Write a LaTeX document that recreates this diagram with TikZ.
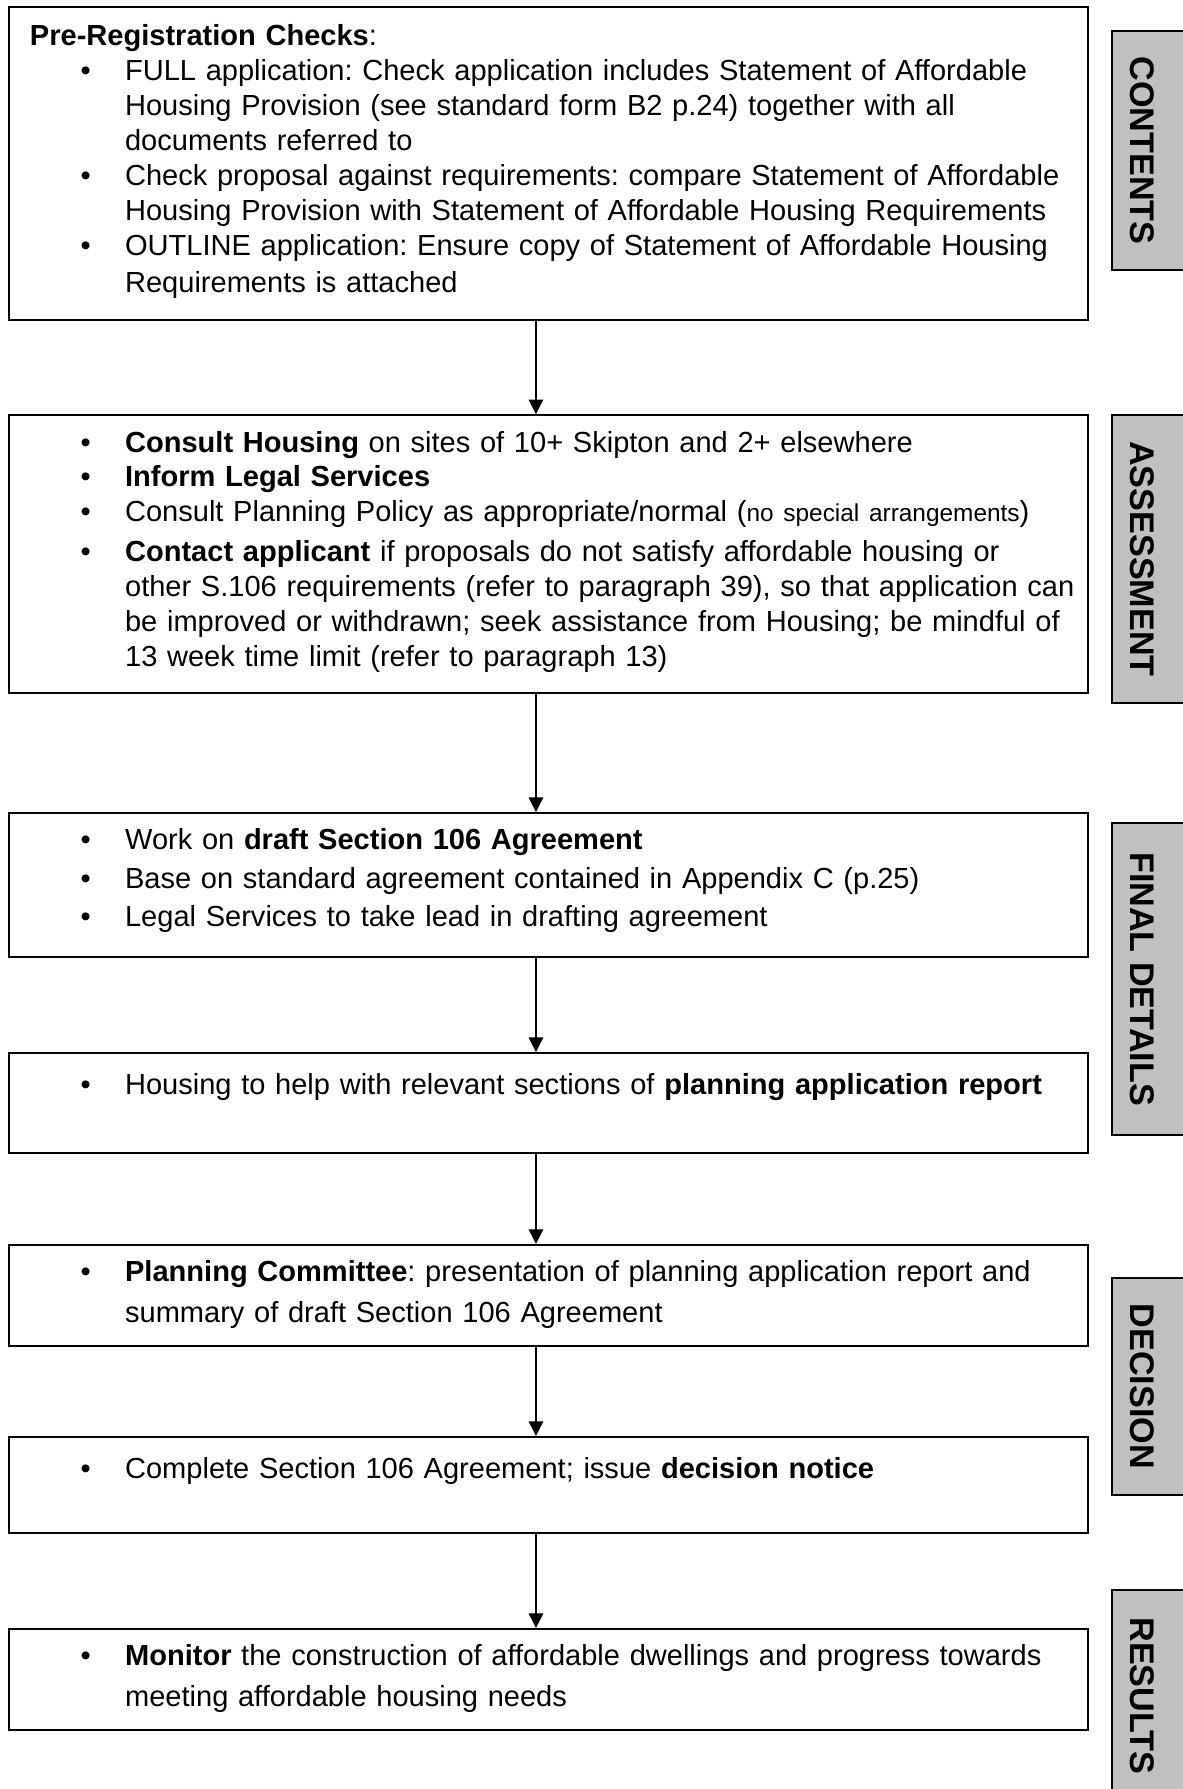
\documentclass[tikz,border=0pt]{standalone}
\usepackage{fontspec}
\setsansfont{Liberation Sans}
\usetikzlibrary{arrows.meta}
\definecolor{labelgray}{RGB}{192,192,192}
\newcommand{\bpt}[1]{\hangindent=1.37cm\hangafter=1\rightskip=-0.3cm plus 1fil\noindent\makebox[1.37cm][l]{\hspace{0.73cm}\textbullet}#1\par}

\begin{document}
\begin{tikzpicture}[node distance=2.77cm, every node/.style={font=\sffamily\fontsize{11.9}{14.3}\selectfont\frenchspacing},
  stagebox/.style={rectangle, draw, line width=0.75pt, text width=14.933cm, inner xsep=0.302cm, inner ysep=0pt, align=left, text height=0.533cm},
  sidelabel/.style={rectangle, draw, line width=0.75pt, fill=labelgray, rotate=-90, inner sep=0pt, text height=0.925cm, text depth=0.262cm, font=\sffamily\bfseries\fontsize{14}{16}\selectfont},
  >={Triangle[length=0.21cm, width=0.21cm]}]
  \useasboundingbox (0,0) rectangle (17.035,-25.762);

  % Boxes
  \node (checks) [stagebox, text height=0.56cm, text depth=3.947cm] at (7.898,-2.354) {\textbf{Pre-Registration Checks}:\par
    \bpt{FULL application: Check application includes Statement of Affordable\newline Housing Provision (see standard form B2 p.24) together with all\newline documents referred to}
    \bpt{Check proposal against requirements: compare Statement of Affordable\newline Housing Provision with Statement of Affordable Housing Requirements}
    \bpt{OUTLINE application: Ensure copy of Statement of Affordable Housing\vspace{1pt}\newline Requirements is attached}};
  \node (assess) [stagebox, below of=checks, yshift=-2.854cm, text depth=3.47cm] {\bpt{\textbf{Consult Housing} on sites of 10+ Skipton and 2+ elsewhere}
    \bpt{\textbf{Inform Legal Services}}
    \bpt{Consult Planning Policy as appropriate/normal ({\fontsize{10}{14.3}\selectfont no special arrangements})}
    \vspace{2pt}
    \bpt{\textbf{Contact applicant} if proposals do not satisfy affordable housing or\newline other S.106 requirements (refer to paragraph 39), so that application can\newline be improved or withdrawn; seek assistance from Housing; be mindful of\newline 13 week time limit (refer to paragraph 13)}};
  \node (draft) [stagebox, below of=assess, yshift=-1.996cm, text depth=1.541cm, font=\sffamily\fontsize{11.9}{15.6}\selectfont\frenchspacing] {\bpt{Work on \textbf{draft Section 106 Agreement}}
    \bpt{Base on standard agreement contained in Appendix C (p.25)}
    \bpt{Legal Services to take lead in drafting agreement}};
  \node (report) [stagebox, below of=draft, yshift=-0.369cm, text height=0.6cm, text depth=0.84cm] {\bpt{Housing to help with relevant sections of \textbf{planning application report}}};
  \node (committee) [stagebox, below of=report, text depth=0.922cm] {\bpt{\textbf{Planning Committee}: presentation of planning application report and\vspace{2.5pt}\newline summary of draft Section 106 Agreement}};
  \node (decision) [stagebox, below of=committee, yshift=0.04cm, text height=0.6cm, text depth=0.783cm] {\bpt{Complete Section 106 Agreement; issue \textbf{decision notice}}};
  \node (monitor) [stagebox, below of=decision, yshift=-0.03cm, text depth=0.922cm] {\bpt{\textbf{Monitor} the construction of affordable dwellings and progress towards\vspace{2.5pt}\newline meeting affordable housing needs}};

  % Arrows
  \draw[->, line width=0.5pt] ([xshift=-0.18cm]checks.south) -- ([xshift=-0.18cm]assess.north);
  \draw[->, line width=0.5pt] ([xshift=-0.18cm]assess.south) -- ([xshift=-0.18cm]draft.north);
  \draw[->, line width=0.5pt] ([xshift=-0.18cm]draft.south) -- ([xshift=-0.18cm]report.north);
  \draw[->, line width=0.5pt] ([xshift=-0.18cm]report.south) -- ([xshift=-0.18cm]committee.north);
  \draw[->, line width=0.5pt] ([xshift=-0.18cm]committee.south) -- ([xshift=-0.18cm]decision.north);
  \draw[->, line width=0.5pt] ([xshift=-0.18cm]decision.south) -- ([xshift=-0.18cm]monitor.north);

  % Side labels
  \node (contents) [right of=checks, xshift=5.939cm, yshift=0.187cm, sidelabel, minimum width=3.442cm] {CONTENTS};
  \node (assessment) [right of=assess, xshift=5.939cm, yshift=-0.072cm, sidelabel, minimum width=4.147cm] {ASSESSMENT};
  \node (details) [right of=draft, xshift=5.939cm, yshift=-1.354cm, sidelabel, minimum width=4.493cm] {FINAL DETAILS};
  \node (decisionlbl) [right of=committee, xshift=5.939cm, yshift=-1.311cm, sidelabel, minimum width=3.125cm] {DECISION};
  \node (results) [right of=monitor, xshift=5.939cm, yshift=-0.237cm, sidelabel, minimum width=3.053cm] {RESULTS};
\end{tikzpicture}
\end{document}
